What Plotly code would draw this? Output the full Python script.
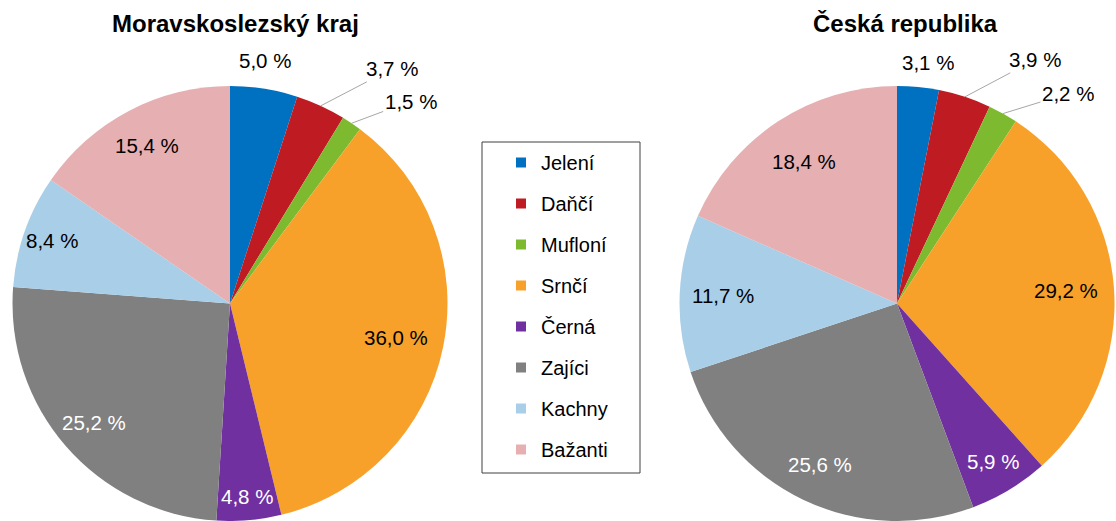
import math
import plotly.graph_objects as go

categories = ["Jelení", "Daňčí", "Mufloní", "Srnčí", "Černá", "Zajíci", "Kachny", "Bažanti"]
msk_values = [5.0, 3.7, 1.5, 36.0, 4.8, 25.2, 8.4, 15.4]
cr_values = [3.1, 3.9, 2.2, 29.2, 5.9, 25.6, 11.7, 18.4]
titles = ["Moravskoslezský kraj", "Česká republika"]

# ---- style ----
W, H = 1116, 521
colors = ["#0070C0", "#BE1B23", "#7DBA2F", "#F8A12A", "#7030A0", "#808080", "#A9CEE8", "#E6AFB2"]
text_colors = ["black", "black", "black", "black", "white", "white", "black", "black"]
FONT = "Liberation Sans, Arial, sans-serif"
LABEL_SIZE = 20.5

# pie geometry in pixels: centre x, centre y (from top), radius
R = 217.5
pies = [dict(cx=230, cy=86 + R, tx=235), dict(cx=897, cy=86 + R, tx=905)]

# label placement style (per slice): inside = radial fraction, outside = pixel offset from slice edge
inside_frac = [
    [None, None, None, 0.78, 0.89, 0.83, 0.87, 0.82],
    [None, None, None, 0.78, 0.85, 0.82, 0.80, 0.78],
]
outside_offset = [
    [(1, -28, False), (71, -37, True), (59, -22, True)],
    [(10, -25, False), (70, -37, True), (65, -20, True)],
]


def fmt(v):
    return f"{v:.1f}".replace(".", ",") + " %"


def px2paper(x, y):
    return x / W, 1 - y / H


fig = go.Figure()

for k, (vals, geo) in enumerate(zip([msk_values, cr_values], pies)):
    cx, cy = geo["cx"], geo["cy"]
    fig.add_trace(go.Pie(
        labels=categories,
        values=vals,
        textinfo="none",
        marker=dict(colors=colors, line=dict(width=0)),
        sort=False,
        direction="clockwise",
        rotation=0,
        domain=dict(x=[(cx - R) / W, (cx + R) / W], y=[0, 1 - 86 / H]),
        showlegend=False,
        hoverinfo="label+percent",
    ))
    total = sum(vals)
    cum = 0.0
    for i, v in enumerate(vals):
        theta = 2 * math.pi * (cum + v / 2) / total
        cum += v
        sx, sy = math.sin(theta), -math.cos(theta)
        if inside_frac[k][i] is not None:
            f = inside_frac[k][i]
            x, y = px2paper(cx + f * R * sx, cy + f * R * sy)
            fig.add_annotation(
                x=x, y=y, xref="paper", yref="paper", text=fmt(v), showarrow=False,
                xanchor="center", yanchor="middle",
                font=dict(family=FONT, size=LABEL_SIZE, color=text_colors[i]),
            )
        else:
            dx, dy, line = outside_offset[k][i]
            ex, ey = cx + R * sx, cy + R * sy
            if line:
                x, y = px2paper(ex, ey)
                fig.add_annotation(
                    x=x, y=y, xref="paper", yref="paper", text=fmt(v),
                    showarrow=True, arrowhead=0, arrowwidth=1, arrowcolor="#A6A6A6",
                    ax=dx, ay=dy, standoff=0,
                    font=dict(family=FONT, size=LABEL_SIZE, color="black"),
                )
            else:
                x, y = px2paper(ex + dx, ey + dy)
                fig.add_annotation(
                    x=x, y=y, xref="paper", yref="paper", text=fmt(v), showarrow=False,
                    xanchor="center", yanchor="middle",
                    font=dict(family=FONT, size=LABEL_SIZE, color="black"),
                )

for name, col in zip(categories, colors):
    fig.add_trace(go.Scatter(
        x=[None], y=[None], mode="markers", name=name,
        marker=dict(symbol="square", size=10, color=col),
        legendgroup=name, showlegend=True, hoverinfo="skip",
    ))

for t, geo in zip(titles, pies):
    x, y = px2paper(geo["tx"], 24)
    fig.add_annotation(
        text=f"<b>{t}</b>", x=x, y=y, xref="paper", yref="paper", showarrow=False,
        font=dict(family=FONT, size=24, color="black"),
        xanchor="center", yanchor="middle",
    )

# legend frame
fig.add_shape(
    type="rect", xref="paper", yref="paper",
    x0=482 / W, x1=640 / W, y0=1 - 473 / H, y1=1 - 142 / H,
    line=dict(color="#404040", width=1), fillcolor="rgba(0,0,0,0)", layer="above",
)

fig.update_layout(
    width=W, height=H,
    margin=dict(l=0, r=0, t=0, b=0),
    paper_bgcolor="white", plot_bgcolor="white",
    xaxis=dict(visible=False), yaxis=dict(visible=False),
    legend=dict(
        x=501 / W, y=1 - 143 / H, xanchor="left", yanchor="top",
        font=dict(family=FONT, size=20, color="black"),
        borderwidth=0, bgcolor="rgba(0,0,0,0)",
        tracegroupgap=12,
    ),
)

fig.write_html(
    "out.html",
    config={"displayModeBar": False},
    post_script="document.body.style.margin='0';document.body.style.padding='0';"
                "document.documentElement.style.overflow='hidden';",
)
